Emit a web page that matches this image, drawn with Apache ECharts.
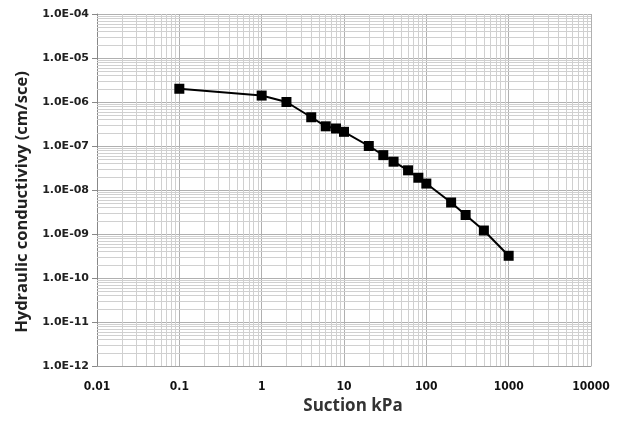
<!DOCTYPE html>
<html>
<head>
<meta charset="utf-8">
<script src="https://cdn.jsdelivr.net/npm/echarts@6/dist/echarts.min.js"></script>
<style>html,body{margin:0;padding:0;background:#fff;}#c{width:626px;height:423px;}</style>
</head>
<body>
<div id="c"></div>
<script>
// Data
var suction = [0.1, 1, 2, 4, 6, 8, 10, 20, 30, 40, 60, 80, 100, 200, 300, 500, 1000];
var conductivity = [2.0e-6, 1.4e-6, 1.0e-6, 4.5e-7, 2.8e-7, 2.5e-7, 2.1e-7, 1.0e-7, 6.2e-8, 4.4e-8, 2.8e-8, 1.9e-8, 1.4e-8, 5.2e-9, 2.7e-9, 1.2e-9, 3.2e-10];
var xRange = [0.01, 10000];
var yRange = [1e-12, 1e-4];
var xDecades = [-2, -1, 0, 1, 2, 3];      // exponents for minor x grid
var yDecades = [-12, -11, -10, -9, -8, -7, -6, -5]; // exponents for minor y grid
var minorMultipliers = [2, 3, 4, 5, 6, 7, 8, 9];

function fmtY(v) {
  var e = Math.round(Math.log10(v));
  var a = Math.abs(e);
  return '1.0E' + (e < 0 ? '-' : '+') + (a < 10 ? '0' + a : a);
}
function fmtX(v) {
  var e = Math.round(Math.log10(v));
  return e < 0 ? Math.pow(10, e).toFixed(-e) : String(Math.pow(10, e));
}

var minorLines = [];
xDecades.forEach(function (e) {
  minorMultipliers.forEach(function (m) {
    var v = m * Math.pow(10, e);
    minorLines.push([{ coord: [v, yRange[0]] }, { coord: [v, yRange[1]] }]);
  });
});
yDecades.forEach(function (e) {
  minorMultipliers.forEach(function (m) {
    var v = m * Math.pow(10, e);
    minorLines.push([{ coord: [xRange[0], v] }, { coord: [xRange[1], v] }]);
  });
});

var data = suction.map(function (s, i) { return [s, conductivity[i]]; });

var chart = echarts.init(document.getElementById('c'), null, { renderer: 'canvas' });
chart.setOption({
  animation: false,
  backgroundColor: '#fff',
  grid: { left: 97, top: 14, right: 35, bottom: 57, containLabel: false },
  xAxis: {
    type: 'log', logBase: 10, min: xRange[0], max: xRange[1], interval: 1,
    name: 'Suction kPa', nameLocation: 'middle', nameGap: 32,
    nameTextStyle: { fontFamily: 'Open Sans', fontWeight: 'bold', fontSize: 17, color: '#333', padding: [0, 0, 0, 18] },
    axisLine: { show: true, lineStyle: { color: '#a0a0a0', width: 1 } },
    axisTick: { show: false },
    axisLabel: { formatter: fmtX, margin: 15, fontFamily: '"DejaVu Sans Condensed", sans-serif', fontWeight: 'bold', fontSize: 12, color: '#111' },
    splitLine: { show: true, lineStyle: { color: '#b0b0b0', width: 1 } }
  },
  yAxis: {
    type: 'log', logBase: 10, min: yRange[0], max: yRange[1], interval: 1,
    name: 'Hydraulic conductivivy (cm/sce)', nameLocation: 'middle', nameGap: 61, nameRotate: 90,
    nameTextStyle: { fontFamily: 'Open Sans', fontWeight: 'bold', fontSize: 16.5, color: '#222', padding: [0, 24, 0, 0] },
    axisLine: { show: true, lineStyle: { color: '#888', width: 1 } },
    axisTick: { show: true, inside: false, length: 5, lineStyle: { color: '#888' } },
    axisLabel: { formatter: fmtY, margin: 8, fontFamily: 'DejaVu Sans', fontWeight: 'bold', fontSize: 11, color: '#222' },
    splitLine: { show: true, lineStyle: { color: '#b0b0b0', width: 1 } }
  },
  series: [
    {
      type: 'line', data: [], silent: true,
      markLine: {
        silent: true, symbol: ['none', 'none'], animation: false,
        label: { show: false },
        lineStyle: { color: '#d0d0d0', width: 1, type: 'solid' },
        emphasis: { disabled: true },
        data: minorLines
      },
      z: 1
    },
    {
      type: 'line', data: data, z: 5,
      symbol: 'rect', symbolSize: 10,
      lineStyle: { color: '#000', width: 2 },
      itemStyle: { color: '#000' }
    }
  ]
});
</script>
</body>
</html>
